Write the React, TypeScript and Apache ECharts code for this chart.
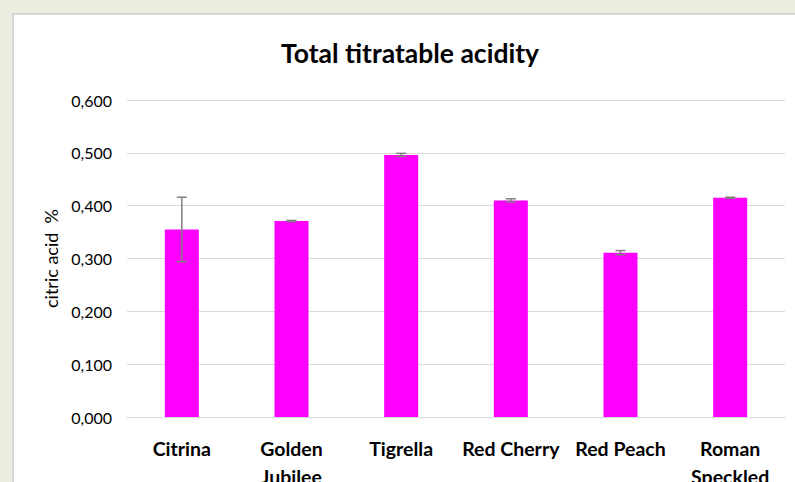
import React, { useEffect, useRef } from "react";
import * as echarts from "echarts";

const categories = ["Citrina", "Golden\nJubilee", "Tigrella", "Red Cherry", "Red Peach", "Roman\nSpeckled"];
const values = [0.355, 0.371, 0.496, 0.410, 0.311, 0.415];
const errors = [0.061, 0.001, 0.003, 0.003, 0.004, 0.001];
const yTicks = [0, 0.1, 0.2, 0.3, 0.4, 0.5, 0.6];

const FONT = "Lato, 'Liberation Sans', sans-serif";

export default function App() {
  const ref = useRef<HTMLDivElement>(null);
  useEffect(() => {
    const chart = echarts.init(ref.current!, null, { renderer: "svg" });
    const errData = values.map((v, i) => [i, v - errors[i], v + errors[i]]);
    chart.setOption({
      animation: false,
      backgroundColor: "#EBEDDE",
      graphic: [
        {
          type: "rect",
          z: -10,
          silent: true,
          shape: { x: 13, y: 14, width: 800, height: 500 },
          style: { fill: "#FFFFFF", stroke: "#D6D6D6", lineWidth: 2 },
        },
      ],
      title: {
        text: "Total titratable acidity",
        left: 405,
        textAlign: "center",
        top: 34,
        textStyle: { fontFamily: FONT, fontWeight: "bold", fontSize: 26.5, color: "#000000" },
      },
      grid: {
        left: 127,
        width: 658,
        top: 100,
        height: 317,
        containLabel: false,
        outerBoundsMode: "none",
      },
      xAxis: {
        type: "category",
        data: categories,
        axisLine: { show: true, lineStyle: { color: "#D9D9D9", width: 1 } },
        axisTick: { show: false },
        axisLabel: {
          interval: 0,
          margin: 17,
          fontFamily: FONT,
          fontWeight: "bold",
          fontSize: 19.5,
          lineHeight: 28,
          color: "#000000",
        },
      },
      yAxis: {
        type: "value",
        min: 0,
        max: yTicks[yTicks.length - 1],
        interval: 0.1,
        name: "citric acid  %",
        nameLocation: "middle",
        nameGap: 67,
        nameTextStyle: { fontFamily: FONT, fontSize: 18, color: "#000000" },
        axisLine: { show: false },
        axisTick: { show: false },
        splitLine: { lineStyle: { color: "#D9D9D9", width: 1 } },
        axisLabel: {
          margin: 15,
          fontFamily: FONT,
          fontSize: 16,
          color: "#000000",
          formatter: (v: number) => v.toFixed(3).replace(".", ","),
        },
      },
      series: [
        {
          type: "bar",
          data: values,
          barWidth: 34,
          itemStyle: { color: "#FF00FF" },
        },
        {
          type: "custom",
          data: errData,
          z: 10,
          renderItem: (params: any, api: any) => {
            const x = api.value(0);
            const lo = api.coord([x, api.value(1)]);
            const hi = api.coord([x, api.value(2)]);
            const half = 5;
            const style = { stroke: "#7F7F7F", lineWidth: 1.5 };
            return {
              type: "group",
              children: [
                { type: "line", shape: { x1: lo[0], y1: lo[1], x2: hi[0], y2: hi[1] }, style },
                { type: "line", shape: { x1: hi[0] - half, y1: hi[1], x2: hi[0] + half, y2: hi[1] }, style },
                { type: "line", shape: { x1: lo[0] - half, y1: lo[1], x2: lo[0] + half, y2: lo[1] }, style },
              ],
            };
          },
        },
      ],
    });
    return () => chart.dispose();
  }, []);
  return (
    <div
      ref={ref}
      style={{ position: "fixed", left: 0, top: 0, width: 795, height: 482 }}
    />
  );
}
